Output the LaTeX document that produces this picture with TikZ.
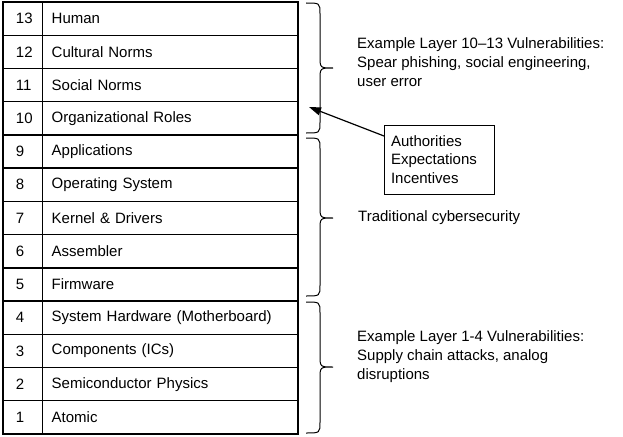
\documentclass[tikz,border=0pt]{standalone}
\usepackage{fontspec}
\setmainfont{Liberation Sans}
\usetikzlibrary{arrows.meta}
\begin{document}
\begin{tikzpicture}[x=1pt,y=-1pt,
  every node/.style={font=\fontsize{15}{18.5}\selectfont},
  cellbase/.style={draw, line width=1.4pt, outer sep=0pt, minimum height=33.23pt, inner ysep=0pt, align=left, anchor=north west},
  numcell/.style={cellbase, inner xsep=13pt, text width=13.7pt},
  labcell/.style={cellbase, inner xsep=9pt, text width=237.3pt},
  infobox/.style={draw, line width=1pt, outer sep=0pt, anchor=north west, inner xsep=7pt, text width=96pt, minimum height=69pt, align=left},
  sidetext/.style={anchor=west, inner sep=0pt, align=left, font=\fontsize{15}{19}\selectfont},
  bracestyle/.style={line width=1pt},
  pointer/.style={line width=1.2pt, -{Triangle[length=12pt,width=8pt]}}
]
\useasboundingbox (0,0) rectangle (623,436);
\foreach \n/\t in {13/Human, 12/Cultural Norms, 11/Social Norms, 10/Organizational Roles, 9/Applications, 8/Operating System, 7/Kernel \& Drivers, 6/Assembler, 5/Firmware, 4/System Hardware (Motherboard), 3/Components (ICs), 2/Semiconductor Physics, 1/Atomic}{
  \node[numcell] (num\n) at (3, {2+(13-\n)*33.23}) {\n};
  \node[labcell] (lab\n) at (42.7, {2+(13-\n)*33.23}) {\t};
}
\draw[line width=2pt] (num13.north west) rectangle (lab1.south east);

\newcommand\layerbrace[3]{%
  \draw[bracestyle] (306,#1) .. controls (320,#1) .. (320,#1+11) -- (320,#3-12)
    .. controls (320,#3) .. (333,#3) .. controls (320,#3) .. (320,#3+12)
    -- (320,#2-11) .. controls (320,#2) .. (306,#2);}
\layerbrace{3}{133}{68}
\layerbrace{138}{296}{218}
\layerbrace{302}{433}{367}

\node[sidetext] (t1) at (357,62) {Example Layer 10–13 Vulnerabilities:\\Spear phishing, social engineering,\\user error};
\node[sidetext] (t2) at (358,218) {Traditional cybersecurity};
\node[sidetext] (t3) at (357,357) {Example Layer 1-4 Vulnerabilities:\\Supply chain attacks, analog\\disruptions};

\node[infobox] (box) at (384,125) {Authorities\\Expectations\\Incentives};
\coordinate (tip) at (309,107);
\draw[pointer] ([yshift=-11pt]box.north west) -- (tip);
\end{tikzpicture}
\end{document}
